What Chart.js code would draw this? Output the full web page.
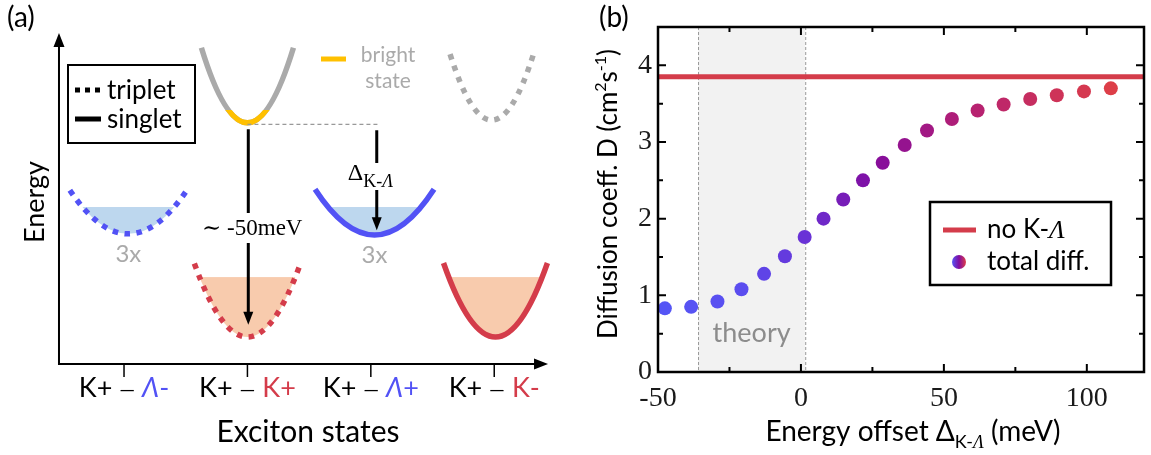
<!DOCTYPE html>
<html>
<head>
<meta charset="utf-8">
<script src="https://cdn.jsdelivr.net/npm/chart.js@4.4.1/dist/chart.umd.min.js"></script>
<style>
  html, body { margin: 0; padding: 0; background: #fff; }
  #wrap { position: relative; width: 1151px; height: 455px; overflow: hidden; }
  #panelA { position: absolute; left: 0; top: 0; }
  #panelB { position: absolute; left: 580px; top: 0; }
</style>
</head>
<body>
<div id="wrap">
  <canvas id="panelA" width="580" height="455"></canvas>
  <canvas id="panelB" width="571" height="455"></canvas>
</div>
<script>
/* ---- (a) exciton band schematic ---- */
const STATE_POS = [1, 2, 3, 4];
// band index: 0 bright singlet, 1 upper triplet, 2 K-Λ- triplet, 3 K-Λ+ singlet, 4 K-K triplet, 5 K-K singlet
const BAND_POS    = [2.0, 3.98, 1.035, 3.03, 2.0, 4.01];
const BAND_SPREAD = [0.373, 0.338, 0.474, 0.482, 0.43, 0.421];
const BAND_MIN    = [53.0, 53.6, 28.6, 28.35, 5.93, 5.93];
const BAND_TOP    = [69.5, 68.1, 38.2, 38.4, 22.1, 22.2];
const BAND_FILL   = [null, null, 34.5, 34.5, 19.1, 19.1];
const BAND_SPIN   = ['singlet', 'triplet', 'triplet', 'singlet', 'triplet', 'singlet'];
const BAND_KIND   = ['upper', 'upper', 'lambda', 'lambda', 'K', 'K'];
const BRIGHT_BELOW = 55.8;          // part of band 0 drawn as the bright state
const ARROW_POS  = [2.007, 3.048];
const ARROW_FROM = [51.6, 51.4];
const ARROW_TO   = [8.6, 29.4];

/* ---- (b) diffusion coefficient vs energy offset ---- */
const OFFSET_MEV = [-47.6, -38.4, -29.2, -20.8, -12.9, -5.6, 1.3, 7.9, 14.8, 21.7,
                    28.6, 36.3, 44.1, 52.8, 61.8, 70.9, 80.2, 89.5, 99.0, 108.4];
const DIFF_TOTAL = [0.83, 0.85, 0.92, 1.08, 1.28, 1.51, 1.76, 2.00, 2.25, 2.50,
                    2.73, 2.96, 3.15, 3.30, 3.41, 3.49, 3.56, 3.61, 3.66, 3.70];
const DIFF_NO_KL = 3.85;
const THEORY_RANGE = [-36, 1.5];
const X_RANGE = [-50, 120];
const Y_RANGE = [0, 4.5];
const X_TICKS = [-50, 0, 50, 100];
const X_MINOR = [-25, 25, 75];
const Y_TICKS = [0, 1, 2, 3, 4];
const Y_MINOR = [0.5, 1.5, 2.5, 3.5];

const SANS = "Lato, 'Open Sans', sans-serif";
const SERIF = "'Liberation Serif', 'DejaVu Serif', serif";
const BLUE = '#5252f5', RED = '#d43c4a', GRAY = '#aaaaaa', YELLOW = '#ffc000';
const BAND_STYLE = {
  upper:  { stroke: GRAY, fill: null },
  lambda: { stroke: BLUE, fill: '#bdd7ee' },
  K:      { stroke: RED,  fill: '#f8cbad' },
};

// draws a run of differently styled text pieces on one baseline
function drawRich(ctx, parts, x, y, align) {
  let w = 0;
  const widths = parts.map(p => { ctx.font = p.font; const m = ctx.measureText(p.t).width; w += m; return m; });
  let cx = align === 'center' ? x - w / 2 : align === 'right' ? x - w : x;
  ctx.textAlign = 'left';
  ctx.textBaseline = 'alphabetic';
  parts.forEach((p, i) => {
    ctx.font = p.font;
    ctx.fillStyle = p.color || '#000';
    ctx.fillText(p.t, cx, y + (p.dy || 0));
    cx += widths[i];
  });
}

function bandGeom(b, xs, ys) {
  return {
    l: xs.getPixelForValue(BAND_POS[b] - BAND_SPREAD[b]),
    c: xs.getPixelForValue(BAND_POS[b]),
    r: xs.getPixelForValue(BAND_POS[b] + BAND_SPREAD[b]),
    top: ys.getPixelForValue(BAND_TOP[b]),
    min: ys.getPixelForValue(BAND_MIN[b]),
  };
}

function tracePath(ctx, g) {
  ctx.beginPath();
  ctx.moveTo(g.l, g.top);
  ctx.quadraticCurveTo(g.c, 2 * g.min - g.top, g.r, g.top);
}

function strokeBand(ctx, g, spin, color) {
  ctx.strokeStyle = color;
  ctx.lineWidth = 5.5;
  ctx.lineCap = 'butt';
  ctx.setLineDash(spin === 'triplet' ? [5.5, 6.5] : []);
  tracePath(ctx, g);
  ctx.stroke();
  ctx.setLineDash([]);
}

function drawArrow(ctx, x, y0, y1, gap) {
  ctx.strokeStyle = '#000';
  ctx.fillStyle = '#000';
  ctx.lineWidth = 3;
  ctx.beginPath();
  ctx.moveTo(x, y0);
  ctx.lineTo(x, gap[0]);
  ctx.moveTo(x, gap[1]);
  ctx.lineTo(x, y1 - 10);
  ctx.stroke();
  ctx.beginPath();
  ctx.moveTo(x - 5, y1 - 13);
  ctx.lineTo(x + 5, y1 - 13);
  ctx.lineTo(x, y1);
  ctx.closePath();
  ctx.fill();
}

const schematic = {
  id: 'schematic',
  afterDraw(chart) {
    const { ctx, scales: { x, y } } = chart;
    ctx.save();

    // energy / state axes with arrow heads
    const ax = x.getPixelForValue(0.473), ay = y.getPixelForValue(0);
    const atop = y.getPixelForValue(72.75), aright = x.getPixelForValue(4.436);
    ctx.strokeStyle = '#000'; ctx.fillStyle = '#000'; ctx.lineWidth = 2;
    ctx.beginPath();
    ctx.moveTo(ax, atop + 10); ctx.lineTo(ax, ay); ctx.lineTo(aright - 10, ay);
    ctx.stroke();
    ctx.beginPath();
    ctx.moveTo(ax, atop); ctx.lineTo(ax - 5.5, atop + 14); ctx.lineTo(ax + 5.5, atop + 14); ctx.closePath();
    ctx.moveTo(aright, ay); ctx.lineTo(aright - 14, ay - 5.5); ctx.lineTo(aright - 14, ay + 5.5); ctx.closePath();
    ctx.fill();
    ctx.lineWidth = 1.5;
    STATE_POS.forEach(p => {
      const px = x.getPixelForValue(p);
      ctx.beginPath(); ctx.moveTo(px, ay); ctx.lineTo(px, ay + 13); ctx.stroke();
    });

    // state labels: K+ – Λ-, K+ – K+, K+ – Λ+, K+ – K-
    const second = [
      { t: 'Λ', italic: true, c: BLUE, s: '-' },
      { t: 'K', italic: false, c: RED, s: '+' },
      { t: 'Λ', italic: true, c: BLUE, s: '+' },
      { t: 'K', italic: false, c: RED, s: '-' },
    ];
    STATE_POS.forEach((p, i) => {
      const s = second[i];
      drawRich(ctx, [
        { t: 'K+ ', font: `27px ${SANS}` },
        { t: '—', font: `20px ${SANS}`, dy: -1 },
        { t: ' ', font: `27px ${SANS}` },
        { t: s.t, font: `${s.italic ? 'italic ' : ''}27px ${SANS}`, color: s.c },
        { t: s.s, font: `27px ${SANS}`, color: s.c },
      ], x.getPixelForValue(p), 397, 'center');
    });

    // band fillings
    BAND_POS.forEach((_, b) => {
      const st = BAND_STYLE[BAND_KIND[b]];
      if (BAND_FILL[b] === null) return;
      const g = bandGeom(b, x, y);
      const fy = y.getPixelForValue(BAND_FILL[b]);
      ctx.save();
      tracePath(ctx, g); ctx.closePath(); ctx.clip();
      ctx.fillStyle = st.fill;
      ctx.fillRect(g.l - 5, fy, g.r - g.l + 10, g.min - fy + 5);
      ctx.restore();
    });

    // band outlines
    BAND_POS.forEach((_, b) => {
      const g = bandGeom(b, x, y);
      strokeBand(ctx, g, BAND_SPIN[b], BAND_STYLE[BAND_KIND[b]].stroke);
    });
    // bright part of the upper singlet
    {
      const g = bandGeom(0, x, y);
      const cut = y.getPixelForValue(BRIGHT_BELOW);
      ctx.save();
      ctx.beginPath(); ctx.rect(g.l - 10, cut, g.r - g.l + 20, 40); ctx.clip();
      strokeBand(ctx, g, 'singlet', YELLOW);
      ctx.restore();
    }

    // reference level of the bright state
    const g0 = bandGeom(0, x, y);
    ctx.strokeStyle = '#999'; ctx.lineWidth = 1.3; ctx.setLineDash([4, 3]);
    ctx.beginPath();
    ctx.moveTo(g0.c, g0.min + 1.5);
    ctx.lineTo(x.getPixelForValue(3.058), g0.min + 1.5);
    ctx.stroke();
    ctx.setLineDash([]);

    // energy offset arrows
    const a1 = x.getPixelForValue(ARROW_POS[0]);
    drawArrow(ctx, a1, y.getPixelForValue(ARROW_FROM[0]), y.getPixelForValue(ARROW_TO[0]), [213, 243]);
    drawRich(ctx, [{ t: '∼ -50meV', font: `23px ${SERIF}` }], a1 + 4, 235, 'center');
    const a2 = x.getPixelForValue(ARROW_POS[1]);
    drawArrow(ctx, a2, y.getPixelForValue(ARROW_FROM[1]), y.getPixelForValue(ARROW_TO[1]), [163, 190]);
    drawRich(ctx, [
      { t: 'Δ', font: `24px ${SERIF}` },
      { t: 'K-', font: `18px ${SERIF}`, dy: 7 },
      { t: 'Λ', font: `italic 18px ${SERIF}`, dy: 7 },
    ], a2 - 29, 180, 'left');

    // degeneracy of the Λ valleys
    [2, 3].forEach(b => {
      const g = bandGeom(b, x, y);
      drawRich(ctx, [{ t: '3x', font: `24px ${SANS}`, color: GRAY }], g.c, g.min + 28, 'center');
    });

    // spin legend
    ctx.strokeStyle = '#000'; ctx.lineWidth = 2;
    ctx.strokeRect(68, 65, 127, 78);
    ctx.lineWidth = 5;
    ctx.setLineDash([5, 5]);
    ctx.beginPath(); ctx.moveTo(75, 90); ctx.lineTo(101, 90); ctx.stroke();
    ctx.setLineDash([]);
    ctx.beginPath(); ctx.moveTo(75, 119); ctx.lineTo(101, 119); ctx.stroke();
    drawRich(ctx, [{ t: 'triplet', font: `26px ${SANS}` }], 107, 99, 'left');
    drawRich(ctx, [{ t: 'singlet', font: `26px ${SANS}` }], 107, 128, 'left');

    // bright state legend
    ctx.strokeStyle = YELLOW; ctx.lineWidth = 5;
    ctx.beginPath(); ctx.moveTo(321, 59); ctx.lineTo(346, 59); ctx.stroke();
    drawRich(ctx, [{ t: 'bright', font: `21px ${SANS}`, color: GRAY }], 388, 62, 'center');
    drawRich(ctx, [{ t: 'state', font: `21px ${SANS}`, color: GRAY }], 388, 88, 'center');

    // axis titles and panel tag
    drawRich(ctx, [{ t: 'Exciton states', font: `30px ${SANS}` }], 308, 442, 'center');
    ctx.save();
    ctx.translate(44, 202);
    ctx.rotate(-Math.PI / 2);
    drawRich(ctx, [{ t: 'Energy', font: `27px ${SANS}` }], 0, 0, 'center');
    ctx.restore();
    drawRich(ctx, [{ t: '(a)', font: `28px ${SANS}` }], 7, 27, 'left');

    ctx.restore();
  }
};

new Chart(document.getElementById('panelA'), {
  type: 'scatter',
  data: { datasets: [] },
  options: {
    responsive: false, animation: false, events: [],
    layout: { padding: 0 },
    plugins: { legend: { display: false }, tooltip: { enabled: false } },
    scales: {
      x: { type: 'linear', display: false, min: -0.005, max: 4.695 },
      y: { type: 'linear', display: false, min: -20, max: 80 },
    },
  },
  plugins: [schematic],
});

/* ---- (b) ---- */
// blue -> purple -> red colour ramp along the series
const RAMP = [
  [0.00, [85, 85, 245]], [0.15, [90, 78, 240]], [0.33, [106, 48, 212]],
  [0.50, [130, 12, 160]], [0.70, [178, 30, 118]], [1.00, [221, 62, 72]],
];
function rampColor(t) {
  for (let i = 1; i < RAMP.length; i++) {
    if (t <= RAMP[i][0]) {
      const [t0, c0] = RAMP[i - 1], [t1, c1] = RAMP[i];
      const f = (t - t0) / (t1 - t0);
      const c = c0.map((v, k) => Math.round(v + (c1[k] - v) * f));
      return `rgb(${c.join(',')})`;
    }
  }
  return `rgb(${RAMP[RAMP.length - 1][1].join(',')})`;
}

const decorB = {
  id: 'decorB',
  beforeDatasetsDraw(chart) {
    const { ctx, chartArea: a, scales: { x } } = chart;
    const l = x.getPixelForValue(THEORY_RANGE[0]), r = x.getPixelForValue(THEORY_RANGE[1]);
    ctx.save();
    ctx.fillStyle = '#f2f2f2';
    ctx.fillRect(l, a.top, r - l, a.bottom - a.top);
    ctx.strokeStyle = '#999'; ctx.lineWidth = 1; ctx.setLineDash([3, 2]);
    [l, r].forEach(px => {
      ctx.beginPath(); ctx.moveTo(px + 0.5, a.top); ctx.lineTo(px + 0.5, a.bottom); ctx.stroke();
    });
    ctx.setLineDash([]);
    drawRich(ctx, [{ t: 'theory', font: `27px ${SANS}`, color: '#8c8c8c' }], (l + r) / 2, 342, 'center');
    ctx.restore();
  },
  afterDatasetsDraw(chart) {
    const { ctx, chartArea: a, scales: { x, y } } = chart;
    ctx.save();
    ctx.strokeStyle = '#000';
    ctx.lineWidth = 2.5;
    ctx.strokeRect(a.left, a.top, a.right - a.left, a.bottom - a.top);
    ctx.lineWidth = 2;
    ctx.beginPath();
    [...X_TICKS, ...X_MINOR].forEach(v => {
      const px = x.getPixelForValue(v), len = X_TICKS.includes(v) ? 8 : 5;
      if (px <= a.left + 1) return;
      ctx.moveTo(px, a.bottom); ctx.lineTo(px, a.bottom - len);
      ctx.moveTo(px, a.top); ctx.lineTo(px, a.top + len);
    });
    [...Y_TICKS, ...Y_MINOR].forEach(v => {
      const py = y.getPixelForValue(v), len = Y_TICKS.includes(v) ? 8 : 5;
      if (py >= a.bottom - 1) return;
      ctx.moveTo(a.left, py); ctx.lineTo(a.left + len, py);
      ctx.moveTo(a.right, py); ctx.lineTo(a.right - len, py);
    });
    ctx.stroke();

    // legend
    const bx = a.right - 214, by = 202;
    ctx.fillStyle = '#fff';
    ctx.fillRect(bx, by, 181, 83);
    ctx.lineWidth = 2.5;
    ctx.strokeRect(bx, by, 181, 83);
    ctx.strokeStyle = RED; ctx.lineWidth = 5;
    ctx.beginPath(); ctx.moveTo(bx + 13, by + 28); ctx.lineTo(bx + 46, by + 28); ctx.stroke();
    const grad = ctx.createLinearGradient(bx + 22, 0, bx + 36, 0);
    grad.addColorStop(0, rampColor(0)); grad.addColorStop(0.5, rampColor(0.5)); grad.addColorStop(1, rampColor(1));
    ctx.fillStyle = grad;
    ctx.beginPath(); ctx.arc(bx + 29, by + 60, 7, 0, Math.PI * 2); ctx.fill();
    drawRich(ctx, [
      { t: 'no K-', font: `26px ${SANS}` },
      { t: 'Λ', font: `italic 26px ${SERIF}` },
    ], bx + 57, by + 36, 'left');
    drawRich(ctx, [{ t: 'total diff.', font: `26px ${SANS}` }], bx + 57, by + 68, 'left');
    ctx.restore();
  },
  afterDraw(chart) {
    const { ctx } = chart;
    ctx.save();
    drawRich(ctx, [{ t: '(b)', font: `28px ${SANS}` }], 19, 27, 'left');
    drawRich(ctx, [
      { t: 'Energy offset Δ', font: `28px ${SANS}` },
      { t: 'K-', font: `18px ${SANS}`, dy: 7 },
      { t: 'Λ', font: `italic 18px ${SERIF}`, dy: 7 },
      { t: ' (meV)', font: `28px ${SANS}` },
    ], 333, 441, 'center');
    ctx.translate(37, 194);
    ctx.rotate(-Math.PI / 2);
    drawRich(ctx, [
      { t: 'Diffusion coeff. D (cm', font: `26px ${SANS}` },
      { t: '2', font: `16px ${SANS}`, dy: -11 },
      { t: 's', font: `26px ${SANS}` },
      { t: '-1', font: `16px ${SANS}`, dy: -11 },
      { t: ')', font: `26px ${SANS}` },
    ], 0, 0, 'center');
    ctx.restore();
  },
};

new Chart(document.getElementById('panelB'), {
  type: 'scatter',
  data: {
    datasets: [{
      label: 'total diff.',
      data: OFFSET_MEV.map((v, i) => ({ x: v, y: DIFF_TOTAL[i] })),
      backgroundColor: OFFSET_MEV.map((_, i) => rampColor(i / (OFFSET_MEV.length - 1))),
      borderWidth: 0,
      pointRadius: 7,
    }, {
      label: 'no K-Λ',
      data: [{ x: X_RANGE[0], y: DIFF_NO_KL }, { x: X_RANGE[1], y: DIFF_NO_KL }],
      showLine: true,
      borderColor: RED,
      borderWidth: 5,
      pointRadius: 0,
    }],
  },
  options: {
    responsive: false, animation: false, events: [],
    layout: { padding: { top: 27, right: 1, left: 0, bottom: 0 } },
    plugins: { legend: { display: false }, tooltip: { enabled: false } },
    scales: {
      x: {
        type: 'linear', min: X_RANGE[0], max: X_RANGE[1],
        afterBuildTicks: s => { s.ticks = X_TICKS.map(v => ({ value: v })); },
        afterFit: s => { s.height = 83; },
        grid: { display: false, drawTicks: false },
        border: { display: false },
        ticks: { font: { family: SERIF, size: 28 }, color: '#1a1a1a', padding: 10, maxRotation: 0 },
      },
      y: {
        type: 'linear', min: Y_RANGE[0], max: Y_RANGE[1],
        afterBuildTicks: s => { s.ticks = Y_TICKS.map(v => ({ value: v })); },
        afterFit: s => { s.width = 78; },
        grid: { display: false, drawTicks: false },
        border: { display: false },
        ticks: { font: { family: SERIF, size: 28 }, color: '#1a1a1a', padding: 6 },
      },
    },
  },
  plugins: [decorB],
});
</script>
</body>
</html>
